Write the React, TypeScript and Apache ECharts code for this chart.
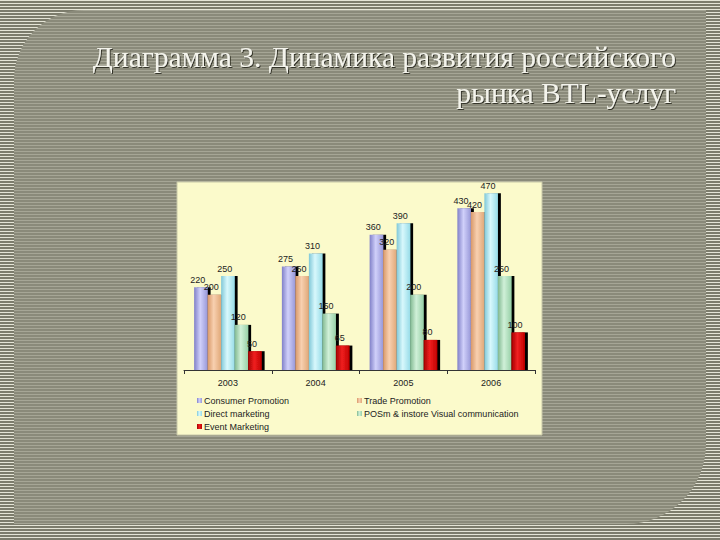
import React, { useEffect, useRef } from "react";
import * as echarts from "echarts";

const categories = ["2003", "2004", "2005", "2006"];
const consumerPromotion = [220, 275, 360, 430];
const tradePromotion = [200, 250, 320, 420];
const directMarketing = [250, 310, 390, 470];
const posMaterials = [120, 150, 200, 250];
const eventMarketing = [50, 65, 80, 100];

const seriesNames = [
  "Consumer Promotion",
  "Trade Promotion",
  "Direct marketing",
  "POSm & instore Visual communication",
  "Event Marketing",
];
const seriesData = [consumerPromotion, tradePromotion, directMarketing, posMaterials, eventMarketing];
const seriesColors = [
  ["#8080C8", "#D0D0FA", "#9898D8"],
  ["#D89868", "#F8D0B0", "#E0A878"],
  ["#80C8D8", "#D8F8FC", "#98DCE8"],
  ["#80B890", "#D0F0D8", "#98D0A8"],
  ["#A00000", "#F02020", "#C00000"],
];
const titleLines = ["Диаграмма 3. Динамика развития российского", "рынка BTL-услуг"];

function grad(c: string[]) {
  return new echarts.graphic.LinearGradient(0, 0, 1, 0, [
    { offset: 0, color: c[0] },
    { offset: 0.45, color: c[1] },
    { offset: 1, color: c[2] },
  ]);
}

export default function App() {
  const ref = useRef<HTMLDivElement>(null);
  useEffect(() => {
    document.body.style.margin = "0";
    if (!ref.current) return;
    const chart = echarts.init(ref.current, undefined, { renderer: "svg" });
    const font = "Arial, 'Liberation Sans', sans-serif";
    const titleStyle = {
      align: "right",
      verticalAlign: "middle",
      fill: "#F4F4EC",
      font: "29.5px 'Liberation Serif', serif",
      textShadowColor: "rgba(40,40,30,0.9)",
      textShadowOffsetX: 1,
      textShadowOffsetY: 1,
      textShadowBlur: 1,
    };
    chart.setOption({
      animation: false,
      backgroundColor: "transparent",
      graphic: [
        {
          type: "rect",
          z: -10,
          shape: { x: 177, y: 182, width: 365, height: 253 },
          style: { fill: "#FBFACB", stroke: "#C8C8A8", lineWidth: 1 },
        },
        { type: "text", x: 676, y: 57, style: { ...titleStyle, text: titleLines[0] } },
        { type: "text", x: 676, y: 93, style: { ...titleStyle, text: titleLines[1] } },
      ],
      legend: [
        {
          data: [seriesNames[0], seriesNames[2], seriesNames[4]],
          orient: "vertical",
          left: 192,
          top: 391,
          itemWidth: 5,
          itemHeight: 5,
          itemGap: 4,
          icon: "rect",
          textStyle: { fontSize: 9, fontFamily: font, color: "#222", padding: [0, 0, 0, -3] },
        },
        {
          data: [seriesNames[1], seriesNames[3]],
          orient: "vertical",
          left: 352,
          top: 391,
          itemWidth: 5,
          itemHeight: 5,
          itemGap: 4,
          icon: "rect",
          textStyle: { fontSize: 9, fontFamily: font, color: "#222", padding: [0, 0, 0, -3] },
        },
      ],
      grid: { left: 184, right: 185, top: 182, bottom: 170 },
      xAxis: {
        type: "category",
        data: categories,
        axisLine: { lineStyle: { color: "#333", width: 1 } },
        axisTick: { show: true, length: 4, lineStyle: { color: "#333" } },
        axisLabel: { fontSize: 9, fontFamily: font, color: "#222", margin: 8 },
      },
      yAxis: {
        type: "value",
        min: 0,
        max: 500,
        show: false,
        splitLine: { show: false },
      },
      series: seriesNames.map((name, i) => ({
        name,
        type: "bar",
        data: seriesData[i],
        barWidth: 13.5,
        barGap: "0%",
        itemStyle: {
          color: grad(seriesColors[i]),
          shadowColor: "#000",
          shadowOffsetX: 3,
          shadowOffsetY: 0,
          shadowBlur: 0,
        },
        label: {
          show: true,
          position: "top",
          distance: 3,
          fontSize: 9,
          fontFamily: font,
          color: "#222",
          offset: [-3, 0],
        },
      })),
    });
    return () => chart.dispose();
  }, []);

  const outer: React.CSSProperties = {
    position: "relative",
    width: 720,
    height: 540,
    overflow: "hidden",
    background: "repeating-linear-gradient(to bottom, #E4E4D6 0px, #E4E4D6 1px, #7C7C6C 1px, #7C7C6C 3px)",
  };
  const inner: React.CSSProperties = {
    position: "absolute",
    left: 14,
    top: 10,
    width: 692,
    height: 514,
    borderTopLeftRadius: 70,
    borderBottomRightRadius: 80,
    background: "repeating-linear-gradient(to bottom, #A6A696 0px, #A6A696 1px, #8A8A7A 1px, #8A8A7A 3px)",
  };
  return (
    <div style={outer}>
      <div style={inner} />
      <div ref={ref} style={{ position: "absolute", left: 0, top: 0, width: 720, height: 540 }} />
    </div>
  );
}
